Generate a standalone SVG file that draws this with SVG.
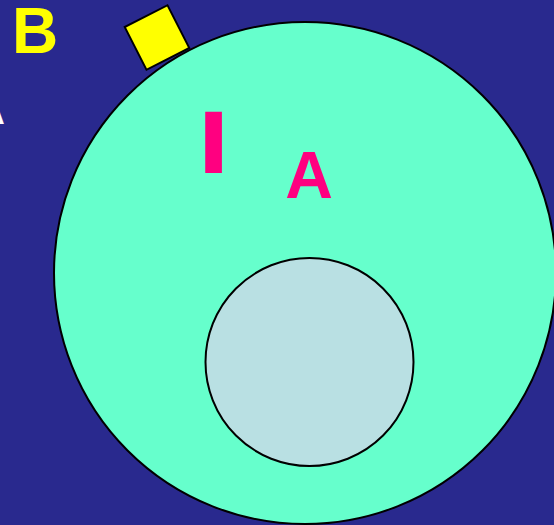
<svg xmlns="http://www.w3.org/2000/svg" width="554" height="525" viewBox="0 0 554 525">
<style>
.lbl{font-family:"Liberation Sans",Arial,sans-serif;font-weight:bold}
.shape{stroke:#000;stroke-width:2}
</style>
<rect x="0" y="0" width="554" height="525" fill="#29298e"/>
<g id="cell">
<circle class="shape" cx="305" cy="273" r="251" fill="#66ffcc"/>
</g>
<g id="nucleus">
<circle class="shape" cx="309.5" cy="362" r="104" fill="#b9e0e3"/>
</g>
<g id="receptor">
<rect class="shape" x="-24" y="-24" width="48" height="48" fill="#ffff00" transform="translate(157 37.5) rotate(-27)"/>
</g>
<g id="labels">
<text class="lbl" x="12" y="53" font-size="64" fill="#ffff00">B</text>
<text class="lbl" x="5" y="124" font-size="40" fill="#ffffff" text-anchor="end">A</text>
<text class="lbl" font-size="89" fill="#ff0080" transform="translate(213.5 173) scale(1.3 1)" text-anchor="middle">I</text>
<text class="lbl" x="309" y="198" font-size="66" fill="#ff0080" text-anchor="middle">A</text>
</g>
</svg>
